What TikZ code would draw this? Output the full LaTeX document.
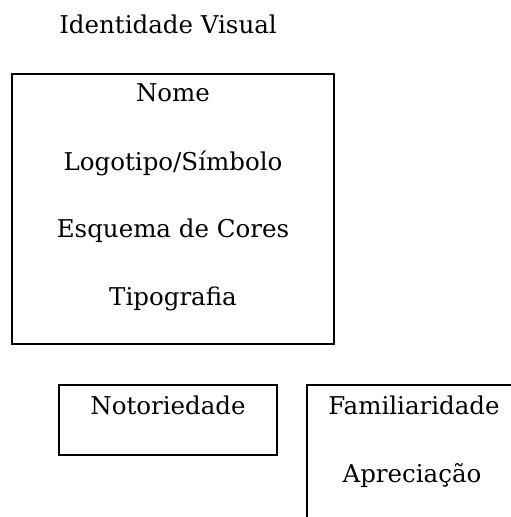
\documentclass[tikz,border=0pt]{standalone}
\usepackage{fontspec}
\setmainfont{DejaVu Serif}
\colorlet{bxl}{black}
\tikzset{
    box/.style={draw=bxl,line width=1.4pt,inner sep=0pt},
    lbl/.style={anchor=base,inner sep=0pt,font=\fontsize{24.5}{29}\selectfont}
}
\begin{document}
\begin{tikzpicture}[x=1pt,y=-1pt]
            \useasboundingbox (0,0) rectangle (511,517);
            \clip (0,0) rectangle (511,517);
            \node [lbl] (title) at (168,33) {Identidade Visual};
            \node [box,minimum width=322pt,minimum height=270pt] (ident) at (173,209) {};
            \node [lbl] (nome) at (173,101) {Nome};
            \node [lbl] (logo) at (173,170) {Logotipo/Símbolo};
            \node [lbl] (cores) at (173,237) {Esquema de Cores};
            \node [lbl] (tipo) at (173,305) {Tipografia};
            \node [box,minimum width=218pt,minimum height=70pt] (noto) at (168,420) {};
            \node [lbl] (notot) at (168,414) {Notoriedade};
            \node [box,minimum width=214pt,minimum height=170pt] (fam) at (414,470) {};
            \node [lbl] (famt) at (414,414) {Familiaridade};
            \node [lbl] (apre) at (412,482) {Apreciação};
        \end{tikzpicture}
\end{document}
